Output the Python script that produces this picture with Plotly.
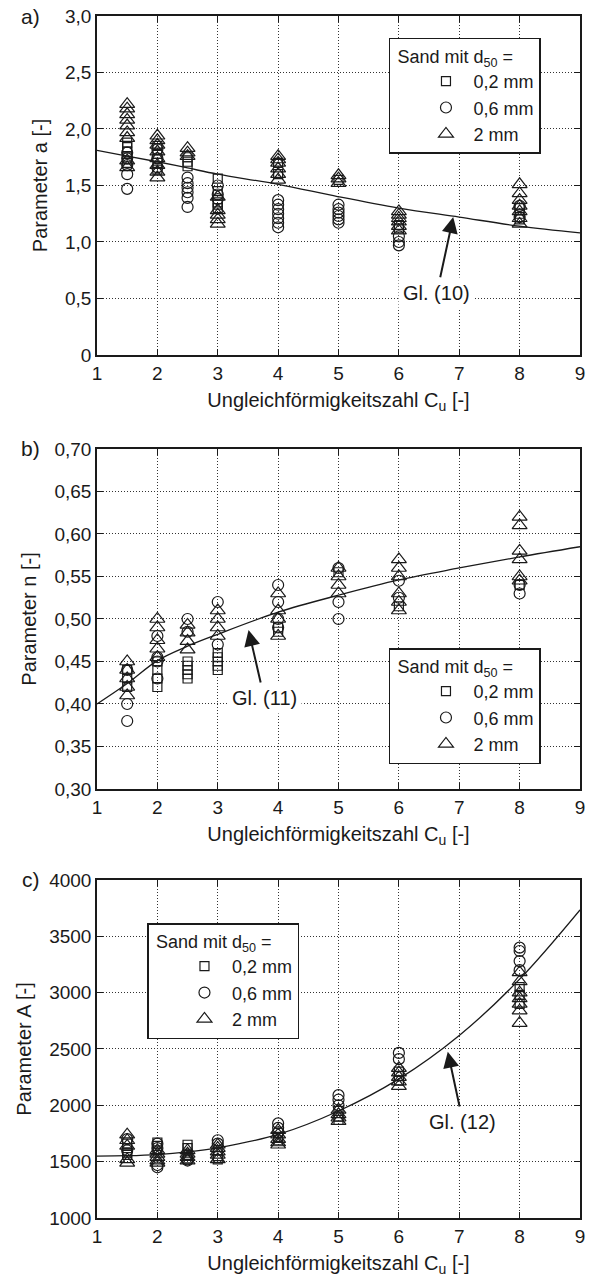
import plotly.graph_objects as go
from plotly.subplots import make_subplots

# Uniformity coefficient levels at which the sands were tested
cu_levels = [1.5, 2, 2.5, 3, 4, 5, 6, 8]

# Parameter a, one list of results per Cu level
a_sq = [[1.88, 1.84, 1.80, 1.75, 1.70], [1.85, 1.78, 1.70, 1.64], [1.75, 1.71, 1.67],
        [1.56, 1.45, 1.35, 1.33, 1.30], [1.70, 1.60], [1.55], [1.15, 1.12], [1.30, 1.25, 1.20]]
a_ci = [[1.79, 1.74, 1.68, 1.60, 1.47], [1.82, 1.74, 1.66], [1.57, 1.52, 1.48, 1.44, 1.39, 1.31],
        [1.50, 1.42, 1.38], [1.37, 1.33, 1.29, 1.25, 1.21, 1.17, 1.13],
        [1.33, 1.29, 1.26, 1.23, 1.20, 1.17], [1.05, 1.00, 0.97], [1.32, 1.22]]
a_tr = [[2.22, 2.18, 2.13, 2.08, 2.03, 1.97, 1.92, 1.72, 1.66],
        [1.94, 1.90, 1.86, 1.80, 1.74, 1.68, 1.62, 1.57], [1.83, 1.79, 1.76],
        [1.40, 1.28, 1.24, 1.20, 1.16], [1.76, 1.73, 1.70, 1.65, 1.60, 1.55],
        [1.59, 1.56, 1.52], [1.27, 1.24, 1.21, 1.18, 1.14, 1.10],
        [1.51, 1.43, 1.37, 1.32, 1.27, 1.21, 1.16]]

# Parameter n
n_sq = [[0.44, 0.43, 0.42], [0.45, 0.44, 0.43, 0.42], [0.45, 0.445, 0.44, 0.435, 0.43],
        [0.46, 0.455, 0.45, 0.445, 0.44], [0.49, 0.485], [0.555], [0.515], [0.54]]
n_ci = [[0.44, 0.40, 0.38], [0.48, 0.455, 0.45, 0.43], [0.50, 0.485], [0.52, 0.47],
        [0.54, 0.52, 0.50, 0.49], [0.56, 0.52, 0.50], [0.545, 0.525], [0.53, 0.54]]
n_tr = [[0.45, 0.44, 0.43, 0.42, 0.41], [0.50, 0.49, 0.475, 0.465, 0.455],
        [0.493, 0.484, 0.474, 0.464], [0.51, 0.50, 0.49, 0.48], [0.53, 0.51, 0.50, 0.48],
        [0.56, 0.55, 0.54, 0.53], [0.57, 0.56, 0.55, 0.53, 0.52, 0.51],
        [0.62, 0.61, 0.58, 0.57, 0.55, 0.545]]

# Parameter A
A_sq = [[1660, 1620, 1580, 1560], [1670, 1640, 1600], [1650, 1620, 1560, 1530],
        [1600, 1550, 1520], [1720, 1690], [1950, 1900, 1870], [2300, 2260, 2220],
        [3050, 2980, 2900]]
A_ci = [[1700, 1600], [1660, 1620, 1470, 1450], [1520, 1510], [1690, 1660],
        [1840, 1800, 1760], [2090, 2050, 2000], [2465, 2410], [3400, 3370, 3280, 3200]]
A_tr = [[1740, 1690, 1640, 1520, 1490], [1600, 1570, 1540, 1510, 1490],
        [1600, 1570, 1540, 1510], [1650, 1620, 1590, 1560, 1520],
        [1780, 1740, 1700, 1670, 1650], [1960, 1920, 1890, 1860],
        [2330, 2290, 2250, 2210, 2170], [3180, 3100, 3000, 2950, 2900, 2840, 2730]]

# Fitted relations Gl. (10) to Gl. (12)
fit_cu = [1, 1.5, 2, 2.5, 3, 4, 5, 6, 7, 8, 9]
fit_a = [1.81, 1.76, 1.71, 1.655, 1.60, 1.51, 1.40, 1.30, 1.22, 1.14, 1.08]
fit_n = [0.400, 0.424, 0.451, 0.468, 0.482, 0.508, 0.528, 0.546, 0.560, 0.573, 0.585]
fit_A = [1550, 1553, 1563, 1586, 1623, 1742, 1950, 2235, 2620, 3120, 3735]

series_names = ["0,2 mm", "0,6 mm", "2 mm"]

# Axis ticks
x_ticks = [1, 2, 3, 4, 5, 6, 7, 8, 9]
a_ticks = [0, 0.5, 1.0, 1.5, 2.0, 2.5, 3.0]
a_ticktext = ["0", "0,5", "1,0", "1,5", "2,0", "2,5", "3,0"]
n_ticks = [0.30, 0.35, 0.40, 0.45, 0.50, 0.55, 0.60, 0.65, 0.70]
n_ticktext = ["0,30", "0,35", "0,40", "0,45", "0,50", "0,55", "0,60", "0,65", "0,70"]
A_ticks = [1000, 1500, 2000, 2500, 3000, 3500, 4000]
A_ticktext = ["1000", "1500", "2000", "2500", "3000", "3500", "4000"]

FONT = "Liberation Sans, Arial, Helvetica, sans-serif"
INK = "#1a1a1a"

fig = make_subplots(rows=3, cols=1)

symbols = ["square-open", "circle-open", "triangle-up-open"]
sizes = [9, 11, 13]


def flatten(groups):
    xs, ys = [], []
    for cu, vals in zip(cu_levels, groups):
        for v in vals:
            xs.append(cu)
            ys.append(v)
    return xs, ys


panels = [
    (1, [a_sq, a_ci, a_tr], fit_a, "legend"),
    (2, [n_sq, n_ci, n_tr], fit_n, "legend2"),
    (3, [A_sq, A_ci, A_tr], fit_A, "legend3"),
]

for row, groups, fit, leg in panels:
    fig.add_trace(go.Scatter(x=fit_cu, y=fit, mode="lines", line=dict(color=INK, width=1.3, shape="spline"),
                             showlegend=False, hoverinfo="skip"), row=row, col=1)
    for name, grp, sym, sz in zip(series_names, groups, symbols, sizes):
        xs, ys = flatten(grp)
        fig.add_trace(go.Scatter(x=xs, y=ys, mode="markers", name=name, legend=leg,
                                 marker=dict(symbol=sym, size=sz, color=INK,
                                             line=dict(color=INK, width=1.2))),
                      row=row, col=1)

# Plot area geometry
domains = [[0.718, 1.0], [0.3569, 0.6398], [0.0, 0.2812]]
yspecs = [([0, 3], a_ticks, a_ticktext, "Parameter a [-]"),
          ([0.30, 0.70], n_ticks, n_ticktext, "Parameter n [-]"),
          ([1000, 4000], A_ticks, A_ticktext, "Parameter A [-]")]

axis_common = dict(showline=True, linecolor=INK, linewidth=1.5, mirror="allticks",
                   ticks="inside", ticklen=6, tickcolor=INK, tickwidth=1.2,
                   showgrid=True, gridcolor="#333333", gridwidth=1, griddash="1px,2px",
                   zeroline=False, tickfont=dict(family=FONT, size=19, color=INK))

for i in range(3):
    rng, tv, tt, title = yspecs[i]
    fig.update_xaxes(range=[1, 9], tickvals=x_ticks, ticktext=[str(t) for t in x_ticks],
                     title=dict(text="Ungleichförmigkeitszahl C<sub>u</sub> [-]",
                                font=dict(family=FONT, size=20, color=INK), standoff=10),
                     domain=[0, 1], **axis_common, row=i + 1, col=1)
    fig.update_yaxes(range=rng, tickvals=tv, ticktext=tt, domain=domains[i],
                     title=dict(text=title, font=dict(family=FONT, size=20, color=INK), standoff=12),
                     **axis_common, row=i + 1, col=1)

legend_common = dict(bgcolor="white", bordercolor=INK, borderwidth=1.5,
                     font=dict(family=FONT, size=18, color=INK),
                     title=dict(text=" Sand mit d<sub>50</sub> =", font=dict(family=FONT, size=18, color=INK)),
                     xanchor="left", yanchor="top", itemwidth=45, indentation=28,
                     tracegroupgap=0, itemclick=False)

fig.update_layout(
    width=591, height=1285,
    margin=dict(l=97, r=6, t=16, b=67),
    paper_bgcolor="white", plot_bgcolor="white",
    font=dict(family=FONT, size=18, color=INK),
    legend=dict(x=0.6045, y=0.9817, **legend_common),
    legend2=dict(x=0.6045, y=0.4742, **legend_common),
    legend3=dict(x=0.1045, y=0.2454, **legend_common),
)

# Panel letters
for letter, ytop in zip(["a)", "b)", "c)"], [1.0, 0.6398, 0.2812]):
    fig.add_annotation(text=letter, xref="paper", yref="paper", x=-0.137, y=ytop,
                       xanchor="center", yanchor="middle", showarrow=False,
                       font=dict(family=FONT, size=21, color=INK))

# Equation labels: text centred at the tail, arrow pointing at the fitted curve
eq_labels = [
    ("x", "y", "Gl. (10)", 6.63, 0.55, 6.90, 1.22),
    ("x2", "y2", "Gl. (11)", 3.77, 0.407, 3.51, 0.487),
    ("x3", "y3", "Gl. (12)", 7.06, 1852, 6.81, 2476),
]
for xr, yr, txt, tx, ty, hx, hy in eq_labels:
    fig.add_annotation(text=txt, xref=xr, yref=yr, x=hx, y=hy, axref=xr, ayref=yr,
                       ax=tx, ay=ty, showarrow=True, arrowhead=2, arrowsize=1.6,
                       arrowwidth=2, arrowcolor=INK, bgcolor="white", borderpad=4,
                       font=dict(family=FONT, size=20, color=INK))

fig.write_html("out.html")
